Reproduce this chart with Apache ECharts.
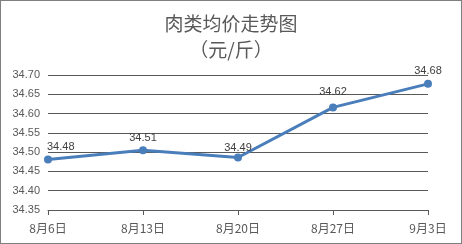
<!DOCTYPE html>
<html><head><meta charset="utf-8">
<script src="https://cdn.jsdelivr.net/npm/echarts@6/dist/echarts.min.js"></script>
<style>html,body{margin:0;padding:0;background:#fff}#c{width:462px;height:244px;box-sizing:border-box;border:1px solid #7f7f7f}</style>
</head><body><div id="c"></div>
<script>
const titleText = '肉类均价走势图\n（元/斤）';
const categories = ['8月6日','8月13日','8月20日','8月27日','9月3日'];
const prices = [34.481, 34.505, 34.486, 34.616, 34.677];
const yMin = 34.35, yMax = 34.70, yStep = 0.05;

const labelTweaks = [
  {align:'left', offset:[-1,0]},
  {},
  {distance:0},
  {distance:6},
  {}
];
const seriesData = prices.map((v,i)=>({value:v,label:labelTweaks[i]}));

const chart = echarts.init(document.getElementById('c'), null, {renderer:'canvas'});
chart.setOption({
  animation:false,
  title:{text:titleText,left:'center',top:5,
    textStyle:{fontFamily:'Noto Sans CJK SC',fontSize:19,fontWeight:'normal',color:'#595959',lineHeight:26}},
  grid:{left:47,right:33,top:74,bottom:33,containLabel:false},
  xAxis:{type:'category',data:categories,boundaryGap:false,
    axisLine:{lineStyle:{color:'#595959',width:1}},
    axisTick:{show:true,length:5,lineStyle:{color:'#595959'}},
    axisLabel:{color:'#595959',fontSize:12,fontFamily:'Noto Sans CJK SC',margin:12,
      interval:0,showMinLabel:true,showMaxLabel:true},
    splitLine:{show:false}},
  yAxis:{type:'value',min:yMin,max:yMax,interval:yStep,
    axisLine:{show:false},axisTick:{show:false},
    axisLabel:{color:'#595959',fontSize:11,fontFamily:'Liberation Sans',margin:8,
      formatter:v=>v.toFixed(2)},
    splitLine:{lineStyle:{color:'#595959',width:1}}},
  series:[{type:'line',data:seriesData,
    symbol:'circle',symbolSize:8,
    lineStyle:{color:'#4a7ebb',width:3},
    itemStyle:{color:'#4a7ebb'},
    label:{show:true,position:'top',distance:3,color:'#404040',fontSize:11,fontFamily:'Liberation Sans',
      formatter:p=>p.value.toFixed(2)}}]
});
</script></body></html>
